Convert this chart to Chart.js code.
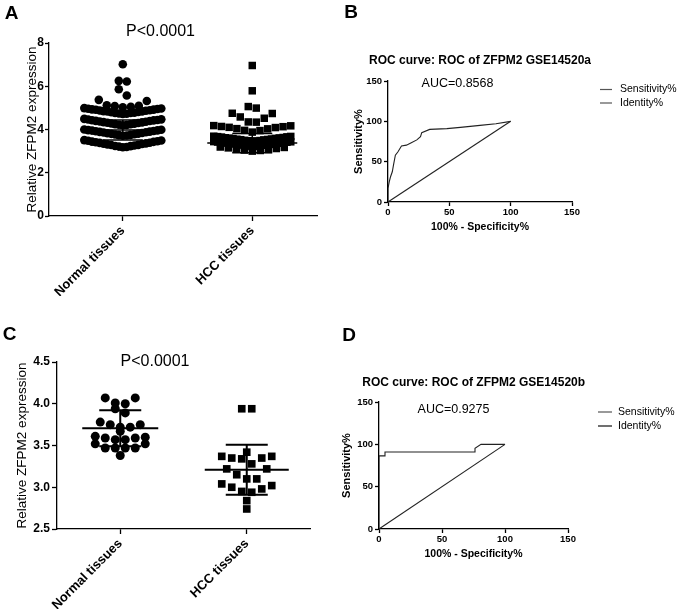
<!DOCTYPE html>
<html>
<head>
<meta charset="utf-8">
<script src="https://cdn.jsdelivr.net/npm/chart.js@4.4.0/dist/chart.umd.min.js"></script>
<style>
  html, body { margin: 0; padding: 0; background: #fff; }
  #wrap { position: relative; width: 677px; height: 611px; }
  #wrap canvas { position: absolute; left: 0; top: 0; }
</style>
</head>
<body>
<div id="wrap">
  <canvas id="panelA" width="677" height="611"></canvas>
  <canvas id="panelB" width="677" height="611"></canvas>
  <canvas id="panelC" width="677" height="611"></canvas>
  <canvas id="panelD" width="677" height="611"></canvas>
</div>
<script>
// ---- data ----
const groups = ['Normal tissues', 'HCC tissues'];

// panel A (GSE14520a), relative expression per sample
const normalA = [
  3.18, 3.19, 3.21, 3.23, 3.24, 3.26, 3.28, 3.29, 3.31, 3.33, 3.34, 3.36, 3.38, 3.39, 3.41, 3.43, 3.44, 3.46, 3.48, 3.49, 3.51,
  3.71, 3.72, 3.74, 3.75, 3.77, 3.78, 3.80, 3.81, 3.83, 3.84, 3.86, 3.87, 3.89, 3.90, 3.92, 3.93, 3.95, 3.96, 3.97, 3.99, 4.00,
  4.20, 4.21, 4.22, 4.24, 4.25, 4.27, 4.28, 4.30, 4.31, 4.33, 4.34, 4.36, 4.37, 4.39, 4.40, 4.42, 4.43, 4.44, 4.46, 4.47, 4.49,
  4.72, 4.73, 4.74, 4.76, 4.77, 4.78, 4.80, 4.81, 4.83, 4.84, 4.85, 4.87, 4.88, 4.89, 4.91, 4.92, 4.93, 4.95, 4.96, 4.97, 4.99,
  5.03, 5.05, 5.08, 5.10, 5.12, 5.32, 5.37, 5.57, 5.86, 6.22, 6.25, 7.02
];
const hccA = [
  3.00, 3.03, 3.05, 3.08, 3.10, 3.12, 3.15, 3.17, 3.19,
  3.21, 3.22, 3.23, 3.24, 3.25, 3.27, 3.28, 3.29, 3.30, 3.31, 3.33, 3.34, 3.35, 3.36, 3.37, 3.38, 3.40, 3.41, 3.42, 3.43, 3.44,
  3.46, 3.47, 3.48, 3.49, 3.50, 3.52, 3.53, 3.54, 3.55, 3.56, 3.58, 3.59, 3.60, 3.61, 3.62, 3.63, 3.65, 3.66, 3.67, 3.68, 3.69,
  3.88, 3.95, 3.96, 4.03, 4.04, 4.09, 4.10, 4.13, 4.14, 4.17, 4.18,
  4.34, 4.35, 4.52, 4.58, 4.74, 4.75, 4.99, 5.06, 5.79, 6.96
];
const meanA = [3.98, 3.37];
const sdA = [0.46, 0.44];
const yTicksA = [0, 2, 4, 6, 8];

// panel C (GSE14520b)
const normalC = [
  3.38, 3.47, 3.47, 3.47, 3.47, 3.52, 3.52, 3.57, 3.57, 3.59, 3.59, 3.60, 3.61,
  3.67, 3.72, 3.72, 3.75, 3.75, 3.78, 3.89, 3.94, 4.00, 4.01, 4.07, 4.07
];
const hccC = [
  2.74, 2.84, 2.94, 2.95, 2.98, 3.00, 3.02, 3.04, 3.10, 3.10, 3.15, 3.22, 3.22,
  3.28, 3.34, 3.35, 3.35, 3.37, 3.37, 3.42, 3.94, 3.94
];
const meanC = [3.706, 3.21];
const sdC = [0.215, 0.30];
const yTicksC = [2.5, 3.0, 3.5, 4.0, 4.5];

// ROC curves (100% - specificity%, sensitivity%)
const rocAFpr  = [0, 0, 1, 2, 3.5, 4.5, 6, 8, 11, 15, 19, 23.5, 26.5, 27.5, 34, 48, 59, 75, 88, 100];
const rocASens = [0, 17, 25, 31, 37.5, 46, 58, 62, 69.5, 70.5, 73.5, 77, 81, 86, 90, 91, 92.5, 95, 97, 100];
const rocBFpr  = [0, 0, 4.76, 4.76, 76.19, 76.19, 80.95, 100];
const rocBSens = [0, 86.36, 86.36, 90.91, 90.91, 95.45, 100, 100];
const identity = [0, 100];
const rocTicks = [0, 50, 100, 150];

// ---- helpers ----
const FONT = 'Arial, "Liberation Sans", Helvetica, sans-serif';
const W = 677, H = 611;

// Prism-like scatter layout: values in the same bin are spread sideways from the centre
function spread(values, center, breaks, stepPx, maxWidthPx, pxPerUnit) {
  const rows = {};
  values.slice().sort((a, b) => a - b).forEach(v => {
    const r = breaks.filter(b => v >= b).length;
    (rows[r] = rows[r] || []).push(v);
  });
  const pts = [];
  Object.values(rows).forEach(row => {
    const n = row.length;
    const step = n > 1 ? Math.min(stepPx, maxWidthPx / (n - 1)) : 0;
    row.forEach((v, i) => {
      let off;
      if (n % 2 === 1) {
        const k = Math.ceil(i / 2);
        off = (i % 2 === 1 ? k : -k) * step;
      } else {
        const k = Math.floor(i / 2) + 0.5;
        off = (i % 2 === 0 ? k : -k) * step;
      }
      pts.push({ x: center + off / pxPerUnit, y: v });
    });
  });
  return pts;
}

const figText = {
  id: 'figText',
  afterDraw(chart, args, opts) {
    const ctx = chart.ctx;
    (opts.items || []).forEach(it => {
      ctx.save();
      if (it.line) {
        ctx.strokeStyle = it.color;
        ctx.lineWidth = 1.2;
        ctx.beginPath();
        ctx.moveTo(it.line[0], it.y);
        ctx.lineTo(it.line[1], it.y);
        ctx.stroke();
      } else {
        ctx.fillStyle = '#000';
        ctx.font = it.font;
        ctx.textAlign = it.align || 'center';
        ctx.textBaseline = 'middle';
        ctx.fillText(it.text, it.x, it.y);
      }
      ctx.restore();
    });
  }
};

const meanSd = {
  id: 'meanSd',
  afterDatasetsDraw(chart, args, opts) {
    const { ctx, scales: { x, y } } = chart;
    opts.means.forEach((m, i) => {
      const cx = x.getPixelForValue(i + 1);
      const s = opts.sds[i];
      const yM = y.getPixelForValue(m);
      const yT = y.getPixelForValue(m + s);
      const yB = y.getPixelForValue(m - s);
      ctx.save();
      ctx.strokeStyle = '#000';
      ctx.lineWidth = opts.width;
      ctx.beginPath();
      ctx.moveTo(cx - opts.meanHalf[i], yM); ctx.lineTo(cx + opts.meanHalf[i], yM);
      ctx.moveTo(cx, yT); ctx.lineTo(cx, yB);
      ctx.moveTo(cx - opts.capHalf, yT); ctx.lineTo(cx + opts.capHalf, yT);
      ctx.moveTo(cx - opts.capHalf, yB); ctx.lineTo(cx + opts.capHalf, yB);
      ctx.stroke();
      ctx.restore();
    });
  }
};

function axisCommon(tickLen) {
  return {
    grid: { drawOnChartArea: false, drawTicks: true, tickLength: tickLen, tickColor: '#000', tickWidth: 1.3 },
    border: { display: true, color: '#000', width: 1.3 }
  };
}

function dotPlot(id, o) {
  const ppu = (o.area.right - o.area.left) / (o.xMax - o.xMin);
  const datasets = o.series.map((vals, i) => ({
    data: spread(vals, i + 1, o.breaks[i], o.step, o.maxWidth, ppu),
    pointStyle: o.styles[i],
    pointRadius: o.radius[i],
    pointBackgroundColor: '#000',
    pointBorderWidth: 0
  }));
  new Chart(document.getElementById(id), {
    type: 'scatter',
    data: { datasets },
    options: {
      responsive: false, animation: false, events: [],
      layout: { padding: {
        left: o.area.left - o.yWidth, right: W - o.area.right,
        top: o.area.top, bottom: H - o.area.bottom - o.xHeight } },
      plugins: {
        legend: { display: false }, tooltip: { enabled: false },
        meanSd: { means: o.means, sds: o.sds, meanHalf: o.meanHalf, capHalf: o.capHalf, width: o.lineWidth },
        figText: { items: o.texts }
      },
      scales: {
        x: Object.assign(axisCommon(5), {
          type: 'linear', min: o.xMin, max: o.xMax,
          afterBuildTicks: s => { s.ticks = groups.map((g, i) => ({ value: i + 1 })); },
          ticks: {
            callback: (v, i) => groups[i], autoSkip: false, minRotation: 45, maxRotation: 45,
            color: '#000', padding: 2, font: { family: FONT, size: 13, weight: 'bold' }
          },
          afterFit: s => { s.height = o.xHeight; }
        }),
        y: Object.assign(axisCommon(o.yTickLen), {
          min: o.yMin, max: o.yMax,
          afterBuildTicks: s => { s.ticks = o.yTicks.map(v => ({ value: v })); },
          ticks: {
            callback: v => v.toFixed(o.decimals), color: '#000', padding: o.yTickPad,
            font: { family: FONT, size: 12, weight: 'bold' }
          },
          title: {
            display: true, text: 'Relative ZFPM2 expression', color: '#000',
            font: { family: FONT, size: 13.5 }, padding: { top: o.titlePad, bottom: 0 }
          },
          afterFit: s => { s.width = o.yWidth; }
        })
      }
    },
    plugins: [meanSd, figText]
  });
}

function rocPlot(id, o) {
  const curve = o.fpr.map((x, i) => ({ x, y: o.sens[i] }));
  const diag = identity.map(v => ({ x: v, y: v }));
  new Chart(document.getElementById(id), {
    type: 'scatter',
    data: { datasets: [
      { label: 'Sensitivity%', data: curve, showLine: true, borderColor: '#222', borderWidth: 1.1, pointRadius: 0, tension: 0 },
      { label: 'Identity%', data: diag, showLine: true, borderColor: '#222', borderWidth: 1.1, pointRadius: 0 }
    ] },
    options: {
      responsive: false, animation: false, events: [],
      layout: { padding: {
        left: o.area.left - o.yWidth, right: W - o.area.right,
        top: o.area.top, bottom: H - o.area.bottom - o.xHeight } },
      plugins: { legend: { display: false }, tooltip: { enabled: false }, figText: { items: o.texts } },
      scales: {
        x: Object.assign(axisCommon(4), {
          type: 'linear', min: 0, max: 150,
          afterBuildTicks: s => { s.ticks = rocTicks.map(v => ({ value: v })); },
          ticks: { color: '#000', padding: 1, maxRotation: 0, font: { family: FONT, size: 9.5, weight: 'bold' } },
          title: { display: true, text: '100% - Specificity%', color: '#000',
            font: { family: FONT, size: 10.5, weight: 'bold' }, padding: { top: 0, bottom: 4 } },
          afterFit: s => { s.height = o.xHeight; }
        }),
        y: Object.assign(axisCommon(4), {
          min: 0, max: 150,
          afterBuildTicks: s => { s.ticks = rocTicks.map(v => ({ value: v })); },
          ticks: { color: '#000', padding: 2, font: { family: FONT, size: 9.5, weight: 'bold' } },
          title: { display: true, text: 'Sensitivity%', color: '#000',
            font: { family: FONT, size: 11, weight: 'bold' }, padding: { top: 4, bottom: 0 } },
          afterFit: s => { s.width = o.yWidth; }
        })
      }
    },
    plugins: [figText]
  });
}

const LETTER = 'bold 19px ' + FONT;
const PFONT = '16px ' + FONT;
const TFONT = 'bold 12px ' + FONT;
const AUCFONT = '12.5px ' + FONT;
const LEGFONT = '10.5px ' + FONT;

dotPlot('panelA', {
  series: [normalA, hccA], means: meanA, sds: sdA,
  breaks: [[3.6, 4.1, 4.6, 5.0, 5.5, 6.0, 6.5], [3.2, 3.45, 3.7, 4.2, 4.8, 5.3, 6.3]],
  area: { left: 49, right: 317, top: 43, bottom: 216 },
  xMin: 0.43, xMax: 2.5, yMin: 0, yMax: 8, yTicks: yTicksA, decimals: 0,
  yWidth: 30, xHeight: 80, titlePad: 5, yTickLen: 4, yTickPad: 1,
  step: 8, maxWidth: 77, radius: [4.3, 5.3], styles: ['circle', 'rect'],
  meanHalf: [40, 45], capHalf: 20, lineWidth: 1.5,
  texts: [
    { text: 'A', x: 11.5, y: 14, font: LETTER },
    { text: 'P<0.0001', x: 160.5, y: 32, font: PFONT }
  ]
});

dotPlot('panelC', {
  series: [normalC, hccC], means: meanC, sds: sdC,
  breaks: [[3.43, 3.55, 3.65, 3.70, 3.85, 3.98], [2.8, 2.9, 3.07, 3.25, 3.4, 3.5]],
  area: { left: 57, right: 310, top: 362, bottom: 529 },
  xMin: 0.5, xMax: 2.5, yMin: 2.5, yMax: 4.5, yTicks: yTicksC, decimals: 1,
  yWidth: 47, xHeight: 80, titlePad: 4, yTickLen: 5, yTickPad: 2,
  step: 10, maxWidth: 60, radius: [4.5, 5.4], styles: ['circle', 'rect'],
  meanHalf: [38, 42], capHalf: 21, lineWidth: 2,
  texts: [
    { text: 'C', x: 9.5, y: 335, font: LETTER },
    { text: 'P<0.0001', x: 155, y: 362, font: PFONT }
  ]
});

rocPlot('panelB', {
  fpr: rocAFpr, sens: rocASens,
  area: { left: 388, right: 572, top: 81, bottom: 202 }, yWidth: 40, xHeight: 35,
  texts: [
    { text: 'B', x: 351, y: 13, font: LETTER },
    { text: 'ROC curve: ROC of ZFPM2 GSE14520a', x: 480, y: 61, font: TFONT },
    { text: 'AUC=0.8568', x: 457.5, y: 84, font: AUCFONT },
    { line: [600, 612], y: 89.5, color: '#555' },
    { line: [600, 612], y: 103, color: '#555' },
    { text: 'Sensitivity%', x: 620, y: 89.5, font: LEGFONT, align: 'left' },
    { text: 'Identity%', x: 620, y: 103, font: LEGFONT, align: 'left' }
  ]
});

rocPlot('panelD', {
  fpr: rocBFpr, sens: rocBSens,
  area: { left: 379, right: 568, top: 402, bottom: 529 }, yWidth: 43, xHeight: 35,
  texts: [
    { text: 'D', x: 349, y: 336, font: LETTER },
    { text: 'ROC curve: ROC of ZFPM2 GSE14520b', x: 473.7, y: 383, font: TFONT },
    { text: 'AUC=0.9275', x: 453.5, y: 410, font: AUCFONT },
    { line: [598, 612], y: 412, color: '#555' },
    { line: [598, 612], y: 426, color: '#111' },
    { text: 'Sensitivity%', x: 618, y: 412, font: LEGFONT, align: 'left' },
    { text: 'Identity%', x: 618, y: 426, font: LEGFONT, align: 'left' }
  ]
});
</script>
</body>
</html>
